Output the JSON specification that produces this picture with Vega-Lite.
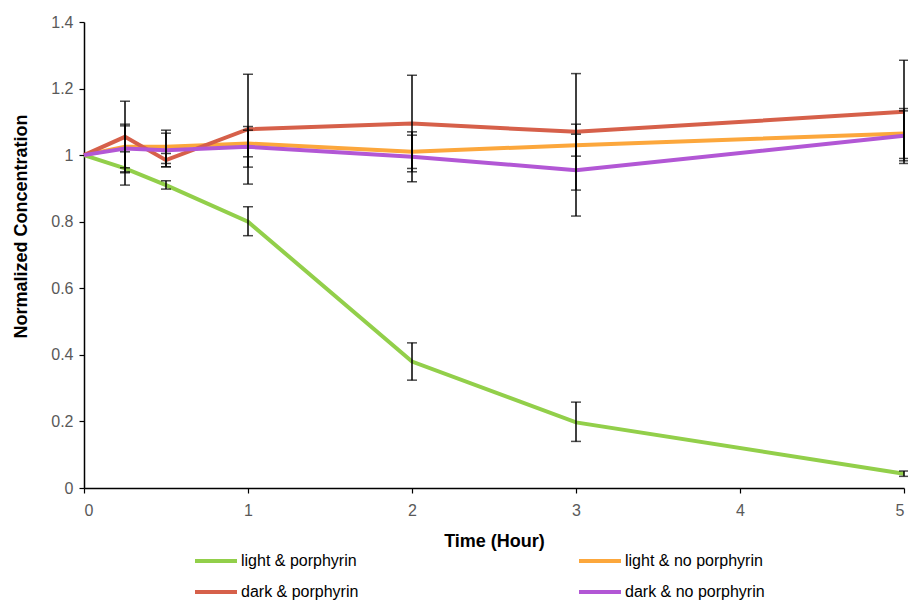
{
  "$schema": "https://vega.github.io/schema/vega-lite/v6.json",
  "width": 820,
  "height": 466,
  "autosize": "none",
  "padding": {"left": 84, "top": 22, "right": 4, "bottom": 115},
  "background": "white",
  "config": {
    "view": {"stroke": null},
    "font": "Liberation Sans",
    "axis": {"grid": false, "domainColor": "#000000", "domainWidth": 1.5, "tickColor": "#000000", "tickWidth": 1.2, "labelColor": "#595959", "labelFontSize": 16, "labelFont": "Liberation Sans", "titleFont": "Liberation Sans", "titleFontSize": 18, "titleFontWeight": "bold", "titleColor": "#000000"}
  },
  "data": {"values": [
    {"series": "light & porphyrin", "t": 0, "v": 1},
    {"series": "light & porphyrin", "t": 0.25, "v": 0.96, "lo": 0.91, "hi": 1.01},
    {"series": "light & porphyrin", "t": 0.5, "v": 0.91, "lo": 0.898, "hi": 0.923},
    {"series": "light & porphyrin", "t": 1, "v": 0.8, "lo": 0.758, "hi": 0.845},
    {"series": "light & porphyrin", "t": 2, "v": 0.38, "lo": 0.324, "hi": 0.436},
    {"series": "light & porphyrin", "t": 3, "v": 0.197, "lo": 0.14, "hi": 0.258},
    {"series": "light & porphyrin", "t": 5, "v": 0.043, "lo": 0.035, "hi": 0.051},
    {"series": "light & no porphyrin", "t": 0, "v": 1},
    {"series": "light & no porphyrin", "t": 0.25, "v": 1.025, "lo": 0.962, "hi": 1.088},
    {"series": "light & no porphyrin", "t": 0.5, "v": 1.025, "lo": 0.975, "hi": 1.075},
    {"series": "light & no porphyrin", "t": 1, "v": 1.035, "lo": 0.995, "hi": 1.075},
    {"series": "light & no porphyrin", "t": 2, "v": 1.01, "lo": 0.96, "hi": 1.06},
    {"series": "light & no porphyrin", "t": 3, "v": 1.03, "lo": 0.997, "hi": 1.063},
    {"series": "light & no porphyrin", "t": 5, "v": 1.065, "lo": 0.99, "hi": 1.14},
    {"series": "dark & porphyrin", "t": 0, "v": 1},
    {"series": "dark & porphyrin", "t": 0.25, "v": 1.055, "lo": 0.95, "hi": 1.162},
    {"series": "dark & porphyrin", "t": 0.5, "v": 0.985, "lo": 0.965, "hi": 1.005},
    {"series": "dark & porphyrin", "t": 1, "v": 1.078, "lo": 0.913, "hi": 1.243},
    {"series": "dark & porphyrin", "t": 2, "v": 1.095, "lo": 0.95, "hi": 1.24},
    {"series": "dark & porphyrin", "t": 3, "v": 1.07, "lo": 0.895, "hi": 1.245},
    {"series": "dark & porphyrin", "t": 5, "v": 1.13, "lo": 0.975, "hi": 1.285},
    {"series": "dark & no porphyrin", "t": 0, "v": 1},
    {"series": "dark & no porphyrin", "t": 0.25, "v": 1.02, "lo": 0.947, "hi": 1.093},
    {"series": "dark & no porphyrin", "t": 0.5, "v": 1.015, "lo": 0.965, "hi": 1.066},
    {"series": "dark & no porphyrin", "t": 1, "v": 1.025, "lo": 0.964, "hi": 1.086},
    {"series": "dark & no porphyrin", "t": 2, "v": 0.995, "lo": 0.92, "hi": 1.07},
    {"series": "dark & no porphyrin", "t": 3, "v": 0.955, "lo": 0.817, "hi": 1.093},
    {"series": "dark & no porphyrin", "t": 5, "v": 1.058, "lo": 0.983, "hi": 1.133}
  ]},
  "layer": [
    {
      "mark": {"type": "line", "strokeWidth": 4},
      "encoding": {
        "x": {"field": "t", "type": "quantitative", "scale": {"domain": [0, 5], "nice": false}, "axis": {"values": [0, 1, 2, 3, 4, 5], "format": "~g", "title": "Time (Hour)", "tickSize": 5, "labelPadding": 9, "titlePadding": 14}},
        "y": {"field": "v", "type": "quantitative", "scale": {"domain": [0, 1.4], "nice": false}, "axis": {"values": [0, 0.2, 0.4, 0.6, 0.8, 1, 1.2, 1.4], "format": "~g", "title": "Normalized Concentration", "titleY": 204, "tickSize": 5, "labelPadding": 6, "titlePadding": 20}},
        "color": {"field": "series", "type": "nominal",
          "scale": {"domain": ["light & porphyrin", "light & no porphyrin", "dark & porphyrin", "dark & no porphyrin"], "range": ["#92cf4a", "#fca73c", "#d6604a", "#b257d5"]},
          "legend": {"title": null, "orient": "none", "direction": "horizontal", "legendX": 109, "legendY": 516, "columns": 2, "columnPadding": 212, "rowPadding": -9, "symbolType": "stroke", "symbolSize": 1764, "symbolStrokeWidth": 4, "labelFontSize": 16, "labelFont": "Liberation Sans", "labelColor": "#000000", "labelOffset": 2, "labelLimit": 300}},
        "order": {"field": "t", "type": "quantitative"}
      }
    },
    {
      "transform": [{"filter": "isValid(datum.lo)"}],
      "mark": {"type": "rule", "color": "#000000", "strokeWidth": 1.5},
      "encoding": {
        "x": {"field": "t", "type": "quantitative"},
        "y": {"field": "lo", "type": "quantitative"},
        "y2": {"field": "hi"}
      }
    },
    {
      "transform": [{"filter": "isValid(datum.lo)"}],
      "mark": {"type": "tick", "orient": "horizontal", "color": "#000000", "size": 10, "thickness": 1.5},
      "encoding": {
        "x": {"field": "t", "type": "quantitative"},
        "y": {"field": "lo", "type": "quantitative"}
      }
    },
    {
      "transform": [{"filter": "isValid(datum.hi)"}],
      "mark": {"type": "tick", "orient": "horizontal", "color": "#000000", "size": 10, "thickness": 1.5},
      "encoding": {
        "x": {"field": "t", "type": "quantitative"},
        "y": {"field": "hi", "type": "quantitative"}
      }
    }
  ]
}
